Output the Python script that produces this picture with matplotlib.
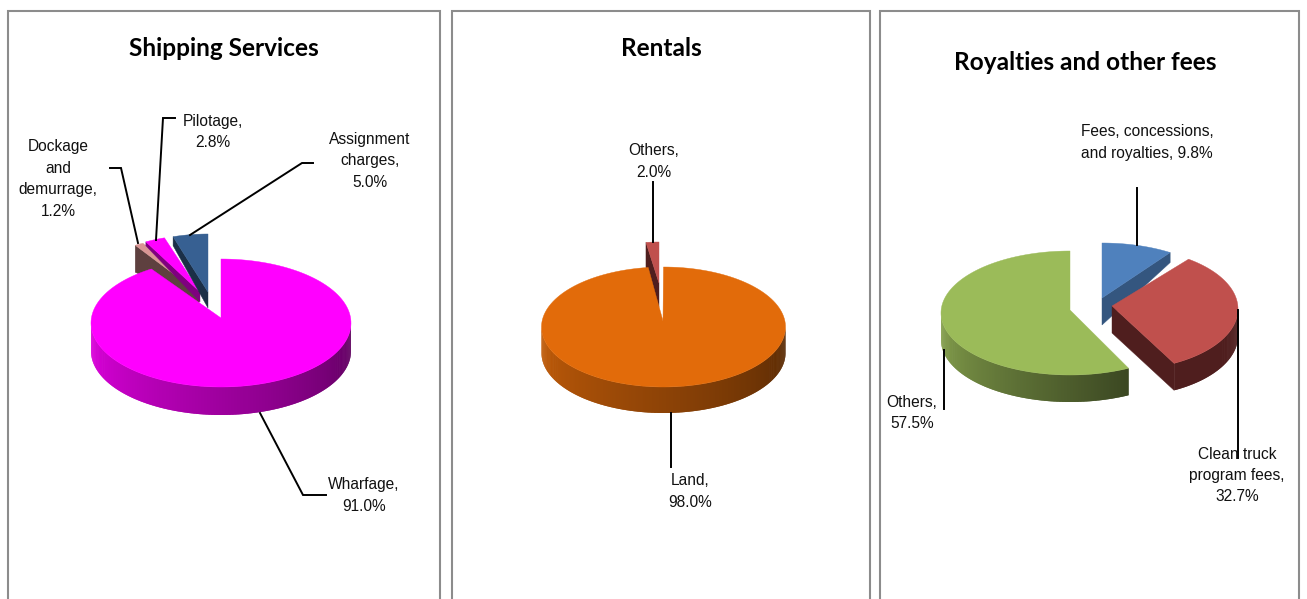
import numpy as np
import matplotlib
matplotlib.use("Agg")
import matplotlib.pyplot as plt
from matplotlib.patches import Polygon
from matplotlib.colors import to_rgb

# ---- data ----
ship_title = "Shipping Services"
ship_names = ["Wharfage,", "Dockage\nand\ndemurrage,", "Pilotage,", "Assignment\ncharges,"]
ship_values = [91.0, 1.2, 2.8, 5.0]
rent_title = "Rentals"
rent_names = ["Land,", "Others,"]
rent_values = [98.0, 2.0]
roy_title = "Royalties and other fees"
roy_names = ["Fees, concessions,\nand royalties,", "Clean truck\nprogram fees,", "Others,"]
roy_values = [9.8, 32.7, 57.5]

# ---- layout (pixels) ----
W, H = 1307, 599
FONT = ["Liberation Sans", "DejaVu Sans"]
TITLE_FONT = ["Lato", "DejaVu Sans"]

fig = plt.figure(figsize=(W / 100, H / 100), dpi=100)
ax = fig.add_axes([0, 0, 1, 1])
ax.set_xlim(0, W)
ax.set_ylim(H, 0)
ax.axis("off")

for x0, x1 in [(8, 440), (452, 870), (880, 1299)]:
    ax.plot([x0, x0, x1, x1], [H + 2, 11, 11, H + 2], color="#8c8c8c", lw=1.5, solid_joinstyle="miter")


def angles(values):
    """Clockwise from 12 o'clock, in degrees: (start, end) with end < start."""
    edges = 90 - np.cumsum([0] + list(values)) * 3.6
    return list(zip(edges[:-1], edges[1:]))


def arc(ell, a0, a1, n=160):
    cx, cy, rx, ry = ell
    t = np.radians(np.linspace(a0, a1, n))
    return np.column_stack([cx + rx * np.cos(t), cy - ry * np.sin(t)])


def draw_slice(span, ell, apex, top, depth=0, apex_depth=None, side=None,
               grad=None, face_edges=(), zorder=2):
    a0, a1 = span
    apex_depth = depth if apex_depth is None else apex_depth
    pts = arc(ell, a0, a1)
    # radial faces
    for which in face_edges:
        p = pts[0] if which == "start" else pts[-1]
        quad = [apex, p, (p[0], p[1] + depth), (apex[0], apex[1] + apex_depth)]
        ax.add_patch(Polygon(quad, closed=True, fc=side, ec=side, lw=0.3, zorder=zorder))
    # outer wall: only the part facing the viewer (180..360 degrees)
    lo, hi = min(a0, a1), max(a0, a1)
    ranges = [(lo, hi), (lo + 360, hi + 360)]
    for r0, r1 in ranges:
        s0, s1 = max(r0, 180), min(r1, 360)
        if s1 <= s0:
            continue
        steps = max(2, int((s1 - s0) * 1.5))
        edges = np.linspace(s0, s1, steps + 1)
        for i in range(steps):
            # each strip runs on under the next one, so no seams show
            end = edges[min(i + 2, steps)]
            seg = arc(ell, edges[i], end, 4)
            quad = np.vstack([seg, seg[::-1] + [0, depth]])
            if grad is None:
                col = side
            else:
                f = ((edges[i] + edges[i + 1]) / 2 - s0) / (s1 - s0)
                base = np.array(to_rgb(top))
                col = tuple(base * (grad[0] + (grad[1] - grad[0]) * f))
            ax.add_patch(Polygon(quad, closed=True, fc=col, ec="none", lw=0, zorder=zorder))
    ax.add_patch(Polygon(np.vstack([[apex], pts]), closed=True, fc=top, ec=top, lw=0.3, zorder=zorder + 0.1))


def label(x, y, name, value, sep="\n"):
    ax.text(x, y + 1, f"{name}{sep}{value:.1f}%", ha="center", va="center", multialignment="center",
            fontsize=11.2, family=FONT, color="#111111", linespacing=1.54, zorder=6)


def leader(xs, ys):
    ax.plot(xs, ys, color="black", lw=1.4, zorder=5, solid_joinstyle="miter")


def title(x, y, s):
    ax.text(x, y, s, ha="center", va="center", fontsize=17.6, fontweight="bold", family=TITLE_FONT, color="black")


# ---- Shipping Services ----
a = angles(ship_values)
draw_slice(a[1], (199, 290, 119, 53), (199, 293), "#D99694", 27, 10, "#5E403F", face_edges=("start",), zorder=2)
draw_slice(a[2], (200, 293, 115, 58), (200, 292), "#FF00FF", 4, 10, "#7F007F", face_edges=("start",), zorder=3)
draw_slice(a[3], (208, 289, 113, 55), (208, 292), "#376092", 9, 16, "#1B2F47", face_edges=("start",), zorder=3.5)
draw_slice(a[0], (221, 323, 130, 64), (221, 318), "#FF00FF", 28, grad=(0.88, 0.36), zorder=4)
title(224, 49, ship_title)
leader([110, 121, 138], [168, 168, 243])
leader([175, 163, 156], [118, 118, 240])
leader([313, 302, 190], [163, 163, 235])
leader([260, 303, 326], [413, 495, 495])
label(364, 494.5, ship_names[0], ship_values[0])
label(58, 178, ship_names[1], ship_values[1])
label(213, 131, ship_names[2], ship_values[2])
label(370, 160, ship_names[3], ship_values[3])

# ---- Rentals ----
a = angles(rent_values)
draw_slice(a[1], (659, 292, 104, 50), (659, 283), "#C0504D", 25, 24, "#4F1E1E", face_edges=("start",), zorder=2)
draw_slice(a[0], (663.5, 327, 122, 60), (663, 321), "#E26B0A", 26, grad=(0.87, 0.38), zorder=4)
title(661, 49, rent_title)
leader([653, 653], [182, 242])
leader([671, 671], [413, 467])
label(690, 490.5, rent_names[0], rent_values[0])
label(654, 160.5, rent_names[1], rent_values[1])

# ---- Royalties and other fees ----
a = angles(roy_values)
draw_slice(a[0], (1102, 295, 118, 52), (1102, 298), "#4F81BD", 10, 27, "#34567F", face_edges=("end",), zorder=2)
draw_slice(a[1], (1121, 309, 117, 61), (1112, 306), "#C0504D", 27, 27, "#4F1E1E", face_edges=("end",), zorder=3)
draw_slice(a[2], (1070, 313, 129, 62), (1070, 310), "#9BBB59", 27, grad=(0.88, 0.38), zorder=3.5)
title(1085, 62, roy_title)
leader([1137, 1137], [188, 245])
leader([1238, 1238], [310, 458])
leader([944, 944], [350, 409])
label(1147, 141.5, roy_names[0], roy_values[0], sep=" ")
label(1237, 474.5, roy_names[1], roy_values[1])
label(912, 412, roy_names[2], roy_values[2])

fig.savefig("out.png", dpi=100)
